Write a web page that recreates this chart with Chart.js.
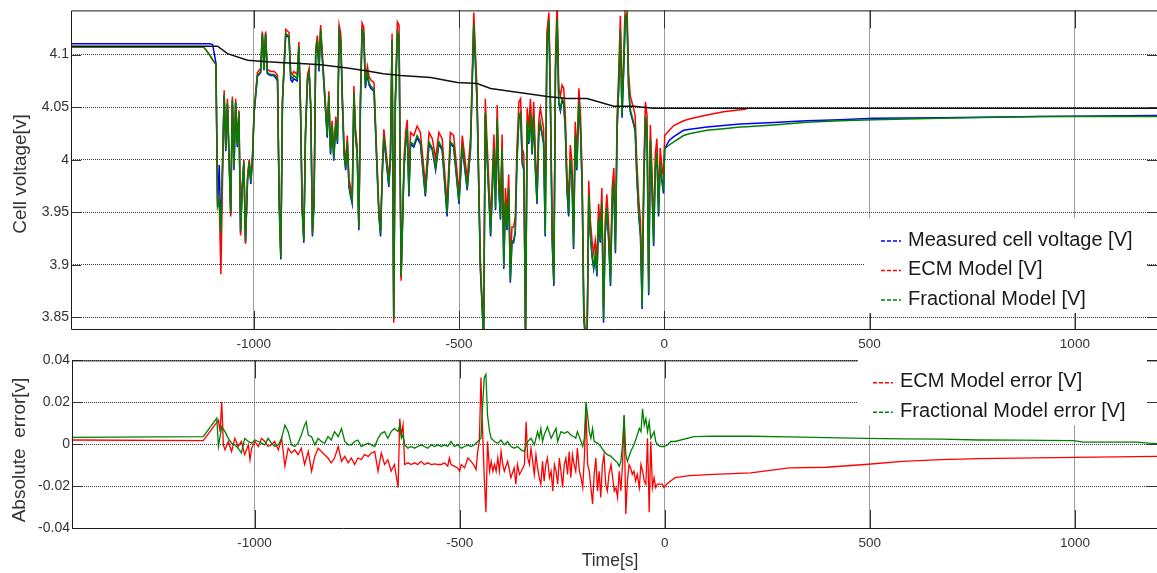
<!DOCTYPE html>
<html>
<head>
<meta charset="utf-8">
<title>Cell voltage and model error</title>
<script src="https://cdn.jsdelivr.net/npm/chart.js@4.4.1/dist/chart.umd.min.js"></script>
<style>
  html, body { margin: 0; padding: 0; background: #fff; }
  body { width: 1157px; height: 573px; position: relative; overflow: hidden; }
  .panel { position: absolute; left: 0; }
</style>
</head>
<body>
<div class="panel" style="top:0"><canvas id="voltageChart" width="1157" height="352"></canvas></div>
<div class="panel" style="top:350px"><canvas id="errorChart" width="1157" height="223"></canvas></div>
<script>
// ---- data ----
const timeTicks = [-1000, -500, 0, 500, 1000];
const voltTicks = [3.85, 3.9, 3.95, 4, 4.05, 4.1];
const errTicks = [-0.04, -0.02, 0, 0.02, 0.04];

// shared time base for the three voltage traces [s]
const voltTime = [
  -1445, -1122, -1107, -1100, -1092,
  -1088, -1084, -1080, -1072, -1068, -1064, -1056, -1052, -1048, -1044,
  -1040, -1036, -1032, -1028, -1024, -1020, -1015, -1011, -1007, -1003,
  -999, -991, -983, -979, -975, -971, -967, -959, -951, -947,
  -942, -938, -934, -930, -922, -914, -910, -906, -902, -894,
  -890, -886, -882, -878, -874, -869, -865, -861, -857, -853,
  -849, -845, -841, -837, -833, -829, -821, -817, -813, -809,
  -805, -800, -796, -792, -788, -784, -780, -776, -772, -768,
  -764, -760, -756, -752, -748, -744, -740, -736, -732, -728,
  -723, -719, -715, -707, -699, -695, -691, -687, -683, -675,
  -671, -667, -663, -659, -655, -650, -646, -641, -634, -630,
  -626, -622, -618, -610, -602, -594, -582, -573, -565, -557,
  -549, -541, -529, -521, -513, -500, -492, -480, -472, -464,
  -456, -448, -440, -436, -432, -423, -415, -411, -407, -403,
  -399, -395, -391, -387, -383, -379, -375, -371, -367, -363,
  -359, -354, -350, -346, -342, -338, -334, -330, -326, -322,
  -318, -314, -310, -306, -302, -294, -290, -286, -281, -277,
  -273, -269, -265, -261, -257, -253, -249, -245, -241, -237,
  -233, -229, -225, -221, -217, -213, -208, -204, -200, -196,
  -192, -188, -184, -180, -176, -172, -168, -164, -160, -156,
  -152, -148, -144, -140, -136, -131, -127, -123, -119, -115,
  -111, -107, -103, -99, -95, -91, -87, -83, -75, -71,
  -67, -62, -58, -54, -50, -46, -42, -38, -34, -30,
  -26, -22, -18, -14, -10, -6, -2,
  1, 12, 23, 47, 63, 104, 144, 185, 200, 266,
  347, 428, 509, 672, 915, 1200
];

const measured = [
  4.1104, 4.1104, 4.1104, 4.1095, 4.092,
  3.955, 3.995, 3.928, 4.061, 4.008, 4.053, 3.948, 4.056, 3.990, 4.054,
  4.012, 4.044, 3.930, 3.972, 3.996, 3.921, 3.980, 3.997, 3.977, 4.000,
  4.044, 4.079, 4.083, 4.120, 4.085, 4.120, 4.082, 4.080, 4.080, 4.078,
  4.075, 3.958, 3.905, 4.054, 4.119, 4.116, 4.076, 4.074, 4.077, 4.075,
  4.107, 4.047, 3.952, 3.921, 4.021, 4.075, 4.082, 4.047, 3.927, 3.958,
  4.101, 4.113, 4.084, 4.122, 4.096, 4.071, 4.021, 4.059, 4.005, 4.031,
  3.999, 4.034, 4.015, 4.121, 4.113, 4.053, 4.005, 3.990, 4.015, 3.974,
  3.965, 3.958, 4.062, 4.021, 4.005, 3.933, 4.053, 4.123, 4.119, 4.068,
  4.081, 4.071, 4.068, 4.065, 3.984, 3.946, 3.927, 3.984, 4.021, 3.990,
  3.974, 3.999, 4.113, 3.848, 4.053, 4.120, 4.116, 3.888, 3.990, 4.015,
  4.027, 3.965, 4.015, 4.012, 4.021, 4.015, 3.965, 4.015, 4.009, 3.990,
  4.015, 4.009, 3.946, 4.015, 4.012, 3.958, 4.012, 3.971, 4.009, 4.128,
  4.053, 3.896, 3.830, 4.043, 4.005, 3.927, 4.009, 3.952, 4.037, 3.971,
  3.943, 4.009, 3.896, 3.958, 3.933, 3.971, 3.883, 3.921, 3.921, 3.930,
  3.996, 4.040, 4.043, 3.996, 3.990, 3.830, 4.034, 4.015, 4.043, 4.005,
  4.040, 3.990, 3.958, 4.021, 4.034, 4.015, 3.927, 4.106, 4.131, 4.040,
  3.921, 3.880, 4.084, 4.133, 4.053, 4.046, 4.056, 4.053, 4.027, 3.971,
  3.946, 3.999, 3.984, 3.915, 4.021, 3.990, 4.053, 4.027, 3.971, 3.848,
  3.830, 3.830, 3.965, 3.927, 3.908, 3.896, 3.908, 3.889, 3.943, 3.921,
  3.958, 3.845, 3.927, 3.952, 3.927, 3.880, 3.958, 3.977, 3.911, 4.027,
  4.068, 4.122, 4.040, 4.084, 4.134, 4.137, 4.068, 4.046, 4.034, 4.027,
  3.984, 3.946, 3.927, 3.858, 3.974, 4.040, 4.027, 3.871, 4.018, 3.974,
  3.918, 3.990, 4.005, 3.946, 3.996, 3.980, 3.968,
  4.0105, 4.0184, 4.022, 4.028, 4.029, 4.031, 4.0325, 4.034, 4.0343, 4.0355,
  4.037, 4.038, 4.0394, 4.040, 4.041, 4.042
];

// ECM trace stops at about 200 s in the figure
const ecmModel = [
  4.1073, 4.1073, 4.0995, 4.095, 4.0907,
  3.960, 3.962, 3.891, 4.066, 4.012, 4.058, 3.946, 4.060, 3.995, 4.058,
  4.016, 4.047, 3.928, 3.976, 4.000, 3.920, 3.985, 4.000, 3.982, 4.004,
  4.048, 4.083, 4.087, 4.122, 4.089, 4.122, 4.086, 4.084, 4.084, 4.083,
  4.080, 3.964, 3.909, 4.058, 4.124, 4.121, 4.084, 4.081, 4.084, 4.081,
  4.112, 4.053, 3.958, 3.925, 4.027, 4.081, 4.087, 4.053, 3.931, 3.964,
  4.106, 4.118, 4.090, 4.128, 4.102, 4.077, 4.027, 4.065, 4.011, 4.037,
  4.005, 4.041, 4.022, 4.128, 4.120, 4.061, 4.013, 3.998, 4.023, 3.982,
  3.973, 3.966, 4.070, 4.029, 4.013, 3.938, 4.061, 4.130, 4.126, 4.076,
  4.089, 4.079, 4.076, 4.073, 3.992, 3.952, 3.933, 3.992, 4.029, 3.998,
  3.982, 4.007, 4.120, 3.845, 4.061, 4.131, 4.128, 3.885, 4.001, 4.026,
  4.038, 3.976, 4.026, 4.023, 4.032, 4.026, 3.976, 4.026, 4.020, 4.001,
  4.026, 4.020, 3.958, 4.026, 4.023, 3.969, 4.023, 3.982, 4.020, 4.140,
  4.066, 3.905, 3.830, 4.058, 4.020, 3.942, 4.024, 3.967, 4.052, 3.986,
  3.958, 4.024, 3.911, 3.973, 3.948, 3.986, 3.898, 3.936, 3.936, 3.945,
  4.011, 4.055, 4.058, 4.011, 4.005, 3.830, 4.049, 4.030, 4.058, 4.020,
  4.055, 4.005, 3.973, 4.036, 4.049, 4.030, 3.942, 4.121, 4.140, 4.055,
  3.936, 3.895, 4.099, 4.150, 4.068, 4.061, 4.071, 4.068, 4.042, 3.986,
  3.961, 4.014, 3.999, 3.930, 4.036, 4.005, 4.068, 4.042, 3.986, 3.863,
  3.830, 3.830, 3.980, 3.942, 3.923, 3.911, 3.923, 3.904, 3.958, 3.936,
  3.973, 3.860, 3.942, 3.967, 3.942, 3.895, 3.973, 3.992, 3.926, 4.042,
  4.083, 4.137, 4.055, 4.099, 4.150, 4.150, 4.083, 4.061, 4.049, 4.042,
  3.999, 3.961, 3.942, 3.873, 3.989, 4.055, 4.042, 3.886, 4.033, 3.989,
  3.933, 4.005, 4.020, 3.961, 4.011, 3.995, 3.983,
  4.023, 4.028, 4.0325, 4.037, 4.039, 4.0425, 4.0457, 4.0476, 4.048, null,
  null, null, null, null, null, null
];

const fractional = [
  4.1073, 4.1073, 4.0995, 4.095, 4.0907,
  3.955, 3.960, 3.930, 4.062, 4.010, 4.054, 3.950, 4.057, 3.992, 4.055,
  4.014, 4.045, 3.932, 3.973, 3.998, 3.923, 3.982, 3.998, 3.979, 4.001,
  4.045, 4.080, 4.084, 4.120, 4.086, 4.120, 4.083, 4.081, 4.081, 4.080,
  4.077, 3.960, 3.907, 4.055, 4.120, 4.117, 4.080, 4.077, 4.080, 4.077,
  4.108, 4.049, 3.954, 3.923, 4.023, 4.077, 4.083, 4.049, 3.929, 3.960,
  4.102, 4.114, 4.086, 4.124, 4.098, 4.073, 4.023, 4.061, 4.007, 4.033,
  4.001, 4.036, 4.017, 4.122, 4.114, 4.055, 4.007, 3.992, 4.017, 3.976,
  3.967, 3.960, 4.064, 4.023, 4.007, 3.935, 4.055, 4.124, 4.120, 4.070,
  4.083, 4.073, 4.070, 4.067, 3.986, 3.948, 3.929, 3.986, 4.023, 3.992,
  3.976, 4.001, 4.114, 3.850, 4.055, 4.122, 4.118, 3.890, 3.992, 4.017,
  4.029, 3.967, 4.017, 4.014, 4.023, 4.017, 3.967, 4.017, 4.011, 3.992,
  4.017, 4.011, 3.949, 4.017, 4.014, 3.960, 4.014, 3.973, 4.011, 4.130,
  4.055, 3.898, 3.830, 4.045, 4.007, 3.929, 4.011, 3.954, 4.039, 3.973,
  3.945, 4.011, 3.898, 3.960, 3.935, 3.973, 3.885, 3.923, 3.923, 3.932,
  3.998, 4.042, 4.045, 3.998, 3.992, 3.830, 4.036, 4.017, 4.045, 4.007,
  4.042, 3.992, 3.960, 4.023, 4.036, 4.017, 3.929, 4.108, 4.133, 4.042,
  3.923, 3.882, 4.086, 4.135, 4.055, 4.048, 4.058, 4.055, 4.029, 3.973,
  3.948, 4.001, 3.986, 3.917, 4.023, 3.992, 4.055, 4.029, 3.973, 3.850,
  3.830, 3.830, 3.967, 3.929, 3.910, 3.898, 3.910, 3.891, 3.945, 3.923,
  3.960, 3.847, 3.929, 3.954, 3.929, 3.882, 3.960, 3.979, 3.913, 4.029,
  4.070, 4.124, 4.042, 4.086, 4.136, 4.139, 4.070, 4.048, 4.036, 4.029,
  3.986, 3.948, 3.929, 3.860, 3.976, 4.042, 4.029, 3.873, 4.020, 3.976,
  3.920, 3.992, 4.007, 3.948, 3.998, 3.982, 3.970,
  4.0105, 4.014, 4.017, 4.023, 4.025, 4.028, 4.0295, 4.031, 4.0313, 4.033,
  4.0357, 4.037, 4.038, 4.0394, 4.041, 4.041
];

// unlabeled black curve in the upper panel
const refTime = [-1445, -1088, -1064, -1015, -967, -927, -886, -837, -772, -723, -684, -642,
  -569, -504, -456, -423, -367, -285, -237, -188, -123, -75, -26, 1200];
const refVoltage = [4.108, 4.108, 4.1009, 4.0947, 4.0931, 4.0922, 4.0915, 4.0903, 4.0872, 4.0844, 4.0818, 4.0802,
  4.0781, 4.0734, 4.0724, 4.0677, 4.0646, 4.0602, 4.0583, 4.0583, 4.0508, 4.0508, 4.0489, 4.049];

const ecmErrTime = [
  -1445, -1125, -1088, -1084, -1080, -1076, -1072, -1064, -1056, -1048,
  -1040, -1032, -1024, -1015, -1011, -1007, -999, -991, -983, -975,
  -967, -959, -951, -942, -934, -926, -918, -910, -902, -894,
  -886, -878, -869, -861, -853, -845, -837, -829, -821, -813,
  -805, -796, -788, -780, -772, -764, -756, -748, -740, -732,
  -723, -715, -707, -699, -691, -683, -675, -667, -659, -650,
  -646, -642, -638, -634, -626, -618, -610, -602, -594, -586,
  -578, -569, -561, -553, -545, -537, -529, -525, -521, -513,
  -505, -500, -496, -488, -480, -472, -464, -460, -456, -452,
  -448, -444, -440, -436, -432, -427, -423, -419, -415, -411,
  -407, -403, -399, -395, -391, -383, -375, -367, -363, -359,
  -354, -350, -342, -338, -334, -330, -326, -318, -314, -310,
  -306, -302, -298, -294, -290, -286, -281, -277, -273, -269,
  -265, -261, -257, -253, -249, -245, -241, -237, -233, -229,
  -225, -221, -217, -213, -208, -204, -200, -196, -192, -188,
  -184, -180, -176, -172, -168, -164, -160, -156, -152, -148,
  -144, -140, -136, -131, -123, -119, -115, -111, -107, -103,
  -99, -95, -91, -87, -83, -79, -75, -71, -67, -62,
  -58, -54, -50, -46, -42, -38, -34, -30, -26, -22,
  -18, -14, -10, -6, -2, 5, 25, 60, 118, 210,
  303, 395, 488, 580, 673, 766, 858, 997, 1200
];
const ecmErr = [
  0.0020, 0.0017, 0.0115, 0.0060, 0.0201, -0.0003, -0.0027, 0.0013, -0.0035, 0.0028,
  -0.0011, 0.0013, -0.0050, -0.0003, -0.0074, -0.0019, 0.0013, -0.0011, 0.0028, 0.0013,
  -0.0011, -0.0003, 0.0013, -0.0027, 0.0028, -0.0105, -0.0019, -0.0042, -0.0027, -0.0050,
  -0.0019, -0.0097, -0.0035, -0.0129, -0.0058, -0.0019, -0.0035, -0.0050, -0.0066, -0.0089,
  -0.0066, -0.0011, -0.0082, -0.0058, -0.0089, -0.0066, -0.0097, -0.0066, -0.0074, -0.0050,
  -0.0058, -0.0042, -0.0035, -0.0129, -0.0042, -0.0097, -0.0074, -0.0129, -0.0097, -0.0207,
  0.0122, 0.0044, 0.0091, -0.0097, -0.0089, -0.0097, -0.0089, -0.0097, -0.0082, -0.0097,
  -0.0089, -0.0097, -0.0094, -0.0097, -0.0097, -0.0089, -0.0105, -0.0066, -0.0097, -0.0105,
  -0.0113, -0.0129, -0.0097, -0.0113, -0.0066, -0.0082, -0.0105, -0.0121, -0.0035, 0.0013,
  0.0318, 0.0060, -0.0160, -0.0325, 0.0013, -0.0129, -0.0082, -0.0129, -0.0097, -0.0129,
  -0.0066, -0.0129, -0.0035, -0.0097, -0.0129, -0.0082, -0.0160, -0.0113, -0.0191, -0.0097,
  -0.0144, -0.0129, -0.0097, 0.0107, -0.0066, -0.0097, -0.0019, -0.0144, -0.0050, -0.0113,
  -0.0160, -0.0191, -0.0082, -0.0176, -0.0097, -0.0066, -0.0160, -0.0129, -0.0223, -0.0097,
  -0.0129, -0.0191, -0.0066, -0.0129, -0.0207, -0.0097, -0.0066, -0.0144, -0.0035, -0.0160,
  -0.0050, -0.0097, -0.0129, -0.0019, -0.0129, -0.0160, -0.0207, -0.0066, 0.0170, -0.0097,
  -0.0129, -0.0207, -0.0285, -0.0144, -0.0066, -0.0223, -0.0129, -0.0254, -0.0097, -0.0050,
  -0.0191, -0.0223, -0.0144, -0.0097, -0.0223, -0.0207, -0.0254, -0.0129, -0.0223, -0.0097,
  0.0138, -0.0333, -0.0176, -0.0097, -0.0113, -0.0144, -0.0129, -0.0176, -0.0144, -0.0207,
  -0.0097, -0.0129, -0.0176, -0.0191, 0.0028, -0.0325, 0.0013, -0.0207, -0.0160, -0.0207,
  -0.0191, -0.0191, -0.0191, -0.0191, -0.0207, -0.0190, -0.0160, -0.0150, -0.0144, -0.0137,
  -0.0113, -0.0110, -0.0097, -0.0082, -0.0074, -0.0069, -0.0066, -0.0063, -0.0058
];

const fracErrTime = [
  -1445, -1125, -1092, -1088, -1080, -1072, -1064, -1056, -1048, -1040,
  -1032, -1024, -1015, -1007, -999, -991, -983, -975, -967, -959,
  -951, -942, -934, -926, -918, -910, -902, -894, -886, -878,
  -874, -869, -861, -853, -845, -837, -829, -821, -813, -805,
  -796, -788, -780, -772, -764, -756, -748, -740, -732, -723,
  -715, -707, -699, -691, -683, -675, -667, -659, -650, -646,
  -642, -638, -634, -626, -618, -610, -602, -594, -586, -578,
  -569, -561, -553, -545, -537, -529, -521, -513, -505, -496,
  -488, -480, -472, -464, -456, -448, -444, -440, -436, -432,
  -427, -423, -415, -407, -399, -391, -383, -375, -367, -359,
  -350, -342, -338, -334, -326, -318, -310, -306, -302, -298,
  -294, -286, -277, -269, -265, -261, -253, -245, -237, -229,
  -221, -217, -213, -204, -200, -196, -192, -188, -184, -180,
  -176, -172, -164, -156, -148, -140, -131, -123, -115, -111,
  -107, -103, -99, -95, -91, -83, -75, -67, -62, -58,
  -54, -50, -46, -42, -38, -34, -26, -22, -18, -10,
  -2, 7, 15, 25, 71, 118, 210, 303, 395, 488,
  580, 673, 766, 858, 997, 1020, 1150, 1180, 1200
];
const fracErr = [
  0.0033, 0.0036, 0.0125, -0.0011, 0.0083, 0.0060, 0.0028, 0.0005, -0.0003, -0.0019,
  -0.0042, 0.0028, 0.0013, 0.0005, 0.0020, 0.0013, 0.0005, -0.0003, 0.0028, 0.0005,
  -0.0011, -0.0003, 0.0028, 0.0091, 0.0060, -0.0003, -0.0011, 0.0005, 0.0044, 0.0091,
  0.0107, 0.0044, 0.0036, -0.0003, 0.0028, 0.0013, 0.0005, 0.0036, 0.0020, 0.0060,
  0.0036, 0.0075, 0.0013, -0.0003, -0.0003, 0.0013, 0.0020, -0.0011, -0.0003, 0.0005,
  -0.0003, -0.0011, 0.0028, 0.0052, 0.0060, 0.0028, 0.0060, 0.0075, 0.0060, 0.0091,
  0.0028, 0.0044, -0.0003, -0.0019, -0.0011, -0.0019, -0.0011, -0.0003, -0.0011, -0.0019,
  -0.0003, -0.0011, -0.0003, -0.0011, -0.0003, -0.0011, 0.0013, -0.0011, -0.0003, -0.0019,
  -0.0011, -0.0003, -0.0011, -0.0003, 0.0013, 0.0028, 0.0185, 0.0318, 0.0334, 0.0138,
  0.0060, 0.0028, 0.0013, 0.0005, 0.0020, -0.0003, 0.0013, -0.0011, -0.0019, -0.0011,
  -0.0027, -0.0035, -0.0003, 0.0013, 0.0028, -0.0003, 0.0060, 0.0028, 0.0075, 0.0013,
  0.0044, 0.0083, 0.0028, 0.0060, 0.0075, 0.0013, 0.0060, 0.0052, 0.0060, 0.0044,
  0.0036, 0.0028, 0.0060, 0.0013, -0.0011, 0.0028, 0.0201, 0.0138, 0.0060, 0.0028,
  0.0075, 0.0013, 0.0005, -0.0011, -0.0035, -0.0050, -0.0058, -0.0074, -0.0089, -0.0105,
  -0.0082, -0.0003, 0.0138, -0.0050, -0.0082, -0.0035, -0.0003, 0.0044, 0.0075, 0.0060,
  0.0169, 0.0091, 0.0122, 0.0060, 0.0107, 0.0028, 0.0060, 0.0013, -0.0003, -0.0011,
  -0.0011, -0.0003, 0.0013, 0.0013, 0.0036, 0.0039, 0.0038, 0.0035, 0.0031, 0.0028,
  0.0025, 0.0024, 0.0020, 0.0019, 0.0017, 0.0010, 0.0010, 0.0005, 0.0003
];

// ---- chart setup ----
const FONT = "'Liberation Sans', Arial, sans-serif";
Chart.defaults.font.family = FONT;
Chart.defaults.color = '#333';

const pts = (xs, ys) => xs.map((x, i) => ({ x: x, y: ys[i] }));

// frame, inward ticks, axis titles and the in-plot legend (MATLAB look)
const matlabLook = {
  id: 'matlabLook',
  afterDraw(chart, args, opts) {
    const { ctx, chartArea: a, scales } = chart;
    ctx.save();
    ctx.strokeStyle = '#333';
    ctx.lineWidth = 1;
    ctx.beginPath();
    scales.x.ticks.forEach(t => {
      const x = Math.round(scales.x.getPixelForValue(t.value)) + 0.5;
      ctx.moveTo(x, a.bottom); ctx.lineTo(x, a.bottom - 18);
      ctx.moveTo(x, a.top); ctx.lineTo(x, a.top + 18);
    });
    scales.y.ticks.forEach(t => {
      const y = Math.round(scales.y.getPixelForValue(t.value)) + 0.5;
      ctx.moveTo(a.left, y); ctx.lineTo(a.left + 10, y);
      ctx.moveTo(a.right, y); ctx.lineTo(a.right - 10, y);
    });
    ctx.stroke();

    ctx.strokeStyle = '#1a1a1a';
    ctx.beginPath();
    ctx.moveTo(a.right, a.top + 0.5);
    ctx.lineTo(a.left + 0.5, a.top + 0.5);
    ctx.lineTo(a.left + 0.5, a.bottom + 0.5);
    ctx.lineTo(a.right, a.bottom + 0.5);
    ctx.stroke();

    // legend
    const lg = opts.legend;
    ctx.fillStyle = '#fff';
    ctx.fillRect(lg.box[0], lg.box[1], lg.box[2], lg.box[3]);
    ctx.font = '20px ' + FONT;
    ctx.textBaseline = 'middle';
    ctx.textAlign = 'left';
    chart.data.datasets.filter(d => d.label).forEach((d, i) => {
      const y = lg.y + i * lg.gap;
      ctx.strokeStyle = d.borderColor;
      ctx.lineWidth = 1.6;
      ctx.setLineDash([4, 2]);
      ctx.beginPath();
      ctx.moveTo(lg.x - 27, y + 1);
      ctx.lineTo(lg.x - 7, y + 1);
      ctx.stroke();
      ctx.setLineDash([]);
      ctx.fillStyle = '#1a1a1a';
      ctx.fillText(d.label, lg.x, y);
    });

    // axis titles
    ctx.fillStyle = '#333';
    ctx.textAlign = 'center';
    opts.titles.forEach(t => {
      ctx.save();
      ctx.font = t.size + 'px ' + FONT;
      ctx.translate(t.x, t.y);
      if (t.vertical) ctx.rotate(-Math.PI / 2);
      ctx.fillText(t.text, 0, 0);
      ctx.restore();
    });
    ctx.restore();
  }
};

function xAxis(height, pad) {
  return {
    type: 'linear',
    min: -1445,
    max: 1200,
    afterBuildTicks: s => { s.ticks = timeTicks.map(v => ({ value: v })); },
    afterFit: s => { s.height = height; },
    ticks: { callback: v => String(v), font: { size: 13.5 }, padding: pad, maxRotation: 0 },
    grid: { color: '#9c9c9c', drawTicks: false },
    border: { display: false }
  };
}

function yAxis(min, max, ticks, width) {
  return {
    min: min,
    max: max,
    afterBuildTicks: s => { s.ticks = ticks.map(v => ({ value: v })); },
    afterFit: s => { s.width = width; },
    ticks: { callback: v => String(v), font: { size: 14 }, padding: 2 },
    grid: { color: '#3a3a3a', drawTicks: false },
    border: { display: false, dash: [1, 1] }
  };
}

const common = {
  responsive: false,
  animation: false,
  devicePixelRatio: 1,
  events: [],
  elements: { point: { radius: 0 }, line: { tension: 0 } },
  spanGaps: false
};

new Chart(document.getElementById('voltageChart'), {
  type: 'line',
  data: {
    datasets: [
      { label: 'Measured cell voltage [V]', data: pts(voltTime, measured), borderColor: '#0000ff', borderWidth: 1.5, order: 3 },
      { label: 'ECM Model [V]', data: pts(voltTime, ecmModel), borderColor: '#ff0000', borderWidth: 1.5, order: 2 },
      { label: 'Fractional Model [V]', data: pts(voltTime, fractional), borderColor: '#008000', borderWidth: 1.5, order: 1 },
      { data: pts(refTime, refVoltage), borderColor: '#111', borderWidth: 1.5, order: 0 }
    ]
  },
  options: Object.assign({}, common, {
    layout: { padding: { top: 7, right: 0, left: 0, bottom: 0 } },
    scales: {
      x: xAxis(23, 7),
      y: yAxis(3.839, 4.142, voltTicks, 71)
    },
    plugins: {
      legend: { display: false },
      tooltip: { enabled: false },
      matlabLook: {
        legend: { x: 908, y: 240, gap: 29.5, box: [865, 218, 282, 95] },
        titles: [{ text: 'Cell voltage[v]', x: 21, y: 174, size: 19, vertical: true }]
      }
    }
  }),
  plugins: [matlabLook]
});

new Chart(document.getElementById('errorChart'), {
  type: 'line',
  data: {
    datasets: [
      { label: 'ECM Model error [V]', data: pts(ecmErrTime, ecmErr), borderColor: '#ff0000', borderWidth: 1.3, order: 2 },
      { label: 'Fractional Model error [V]', data: pts(fracErrTime, fracErr), borderColor: '#008000', borderWidth: 1.3, order: 1 }
    ]
  },
  options: Object.assign({}, common, {
    layout: { padding: { top: 8, right: 0, left: 0, bottom: 0 } },
    scales: {
      x: xAxis(45, 7),
      y: yAxis(-0.04, 0.04, errTicks, 72)
    },
    plugins: {
      legend: { display: false },
      tooltip: { enabled: false },
      matlabLook: {
        legend: { x: 900, y: 31.7, gap: 29.5, box: [858, 5, 289, 70] },
        titles: [
          { text: 'Absolute  error[v]', x: 20, y: 100, size: 19, vertical: true },
          { text: 'Time[s]', x: 610, y: 211, size: 17.5, vertical: false }
        ]
      }
    }
  }),
  plugins: [matlabLook]
});
</script>
</body>
</html>
